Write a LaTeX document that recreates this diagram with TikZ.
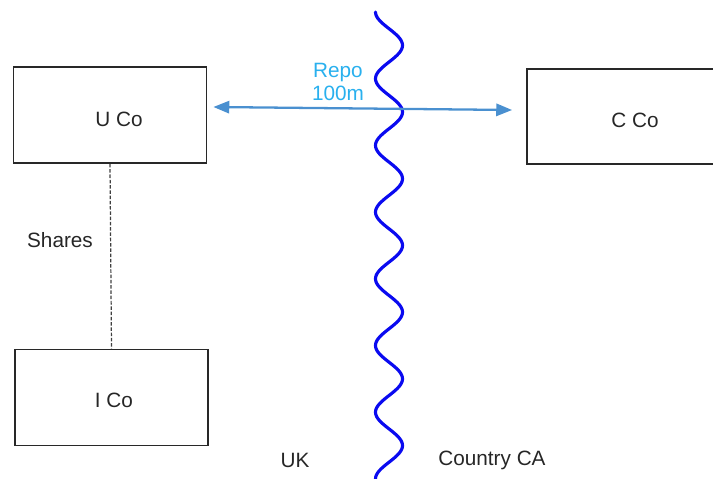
\documentclass[tikz,border=0pt]{standalone}
\usepackage{fontspec}
\setmainfont{Liberation Sans}
\usepackage{tikz}
\usetikzlibrary{positioning,arrows.meta}
\definecolor{boxC}{RGB}{40,40,40}
\definecolor{repoA}{RGB}{74,144,208}
\definecolor{repoT}{RGB}{41,176,238}
\definecolor{waveB}{RGB}{10,10,240}

\begin{document}
\begin{tikzpicture}[x=0.02cm,y=-0.02cm,
   firm/.style={rectangle,draw=boxC,line width=1.1pt,minimum width=3.86cm,minimum height=1.92cm,inner sep=0pt},
   txt/.style={font=\fontsize{11.8}{14}\selectfont,text=black!85},
   repo/.style={repoA,line width=1.3pt,{Triangle[length=9pt,width=7pt]}-{Triangle[length=9pt,width=7pt]}},
   shr/.style={black!75,line width=0.7pt,dash pattern=on 2pt off 1pt},
   wave/.style={waveB,line width=1.8pt,line cap=round}]
\useasboundingbox (0,0) rectangle (713,479);
%% ---- UK side ----
\node[firm,label={[txt,shift={(0.18cm,-0.09cm)}]center:U Co}] (uco) at (110,115) {};
\node[firm,label={[txt,shift={(0.05cm,-0.05cm)}]center:I Co}] (ico) at (111.5,397.5) {};
\draw[shr] (uco.south) -- (ico.north);
\node[txt] (shares) at (60,240) {Shares};
\node[txt] (uk) at (295,460) {UK};

%% ---- country CA side ----
\node[firm,minimum width=4.32cm,minimum height=1.9cm,
      label={[txt,shift={(0cm,-0.07cm)}]center:C Co}] (cco) at (635,116.5) {};
\node[txt] (ca) at (492,460) {Country CA};

%% ---- border ----
\draw[wave] plot[domain=0:7,samples=281,smooth] ({389-13.5*cos(360*\x)},{12+66.7*\x});

%% ---- repo ----
\draw[repo] ([shift={(6,-8)}]uco.east) -- ([shift={(-14,-6.5)}]cco.west);
\node[txt,text=repoT,align=center,font=\fontsize{11.8}{13.2}\selectfont] (rp) at (338,82) {Repo\\100m};
\end{tikzpicture}
\end{document}
